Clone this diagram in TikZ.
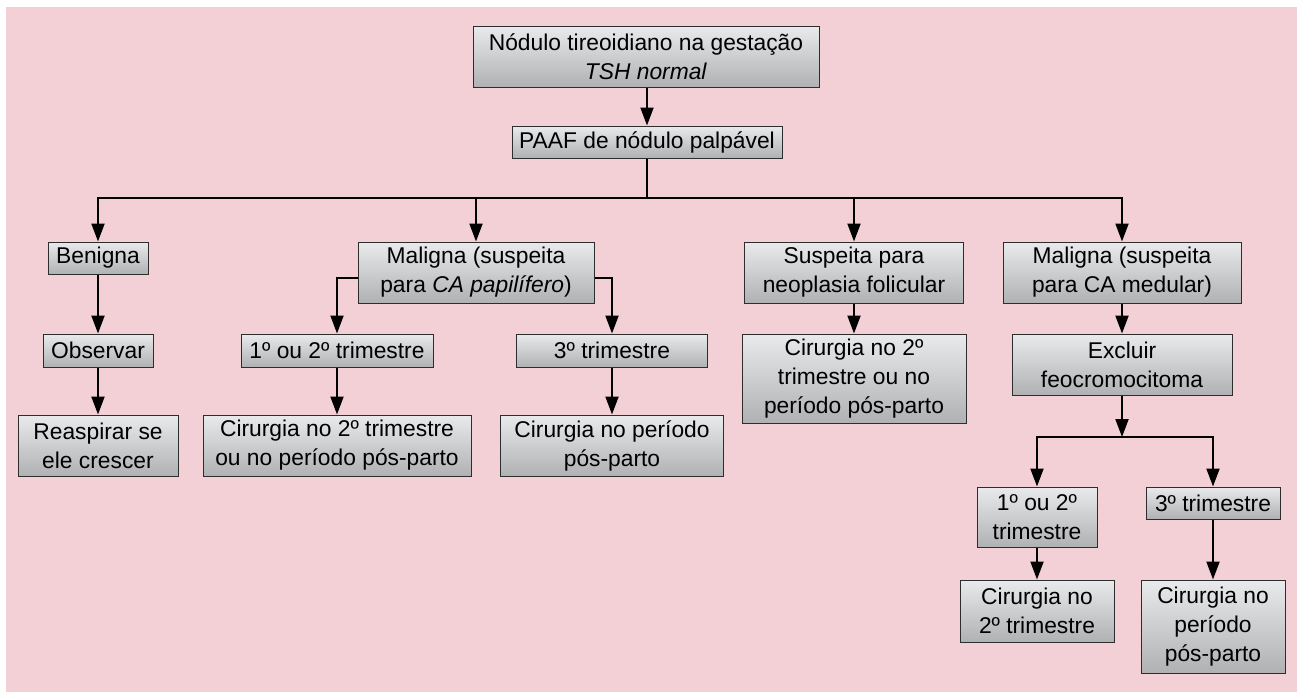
\documentclass[tikz,border=0pt]{standalone}
\usepackage{fontspec}
\setmainfont{Liberation Sans}
\usetikzlibrary{arrows.meta}
\definecolor{rosa}{RGB}{243,207,214}
\definecolor{cinzaclaro}{RGB}{233,234,235}
\definecolor{cinzaescuro}{RGB}{176,177,179}
\definecolor{borda}{RGB}{45,45,45}
\tikzset{
	caixa/.style={draw=borda,line width=0.5pt,top color=cinzaclaro,bottom color=cinzaescuro,align=center,inner sep=0pt,font=\fontsize{11.4}{14.5}\selectfont},
	seta/.style={line width=1pt,-{Triangle[length=9pt,width=6.5pt]}},
	linha/.style={line width=1pt}
}

\begin{document}
\begin{tikzpicture}[x=0.5pt,y=-0.5pt]
	\useasboundingbox (0,0) rectangle (1297,692);
	\fill[white] (0,0) rectangle (1297,692);
	\fill[rosa] (6,7) rectangle (1297,692);

	\node[caixa,minimum width=173pt,minimum height=30.5pt] (topo) at (646,56.5) {Nódulo tireoidiano na gestação\\\textit{TSH normal}};
	\node[caixa,minimum width=135pt,minimum height=16pt] (paaf) at (647,142) {PAAF de nódulo palpável};

	\node[caixa,minimum width=50pt,minimum height=16pt] (benigna) at (98,258) {Benigna};
	\node[caixa,minimum width=55pt,minimum height=16.5pt] (observar) at (98,350.5) {Observar};
	\node[caixa,minimum width=80pt,minimum height=30.5pt] (reaspirar) at (98,445.5) {Reaspirar se\\ele crescer};

	\node[caixa,minimum width=118pt,minimum height=30.5pt] (malpap) at (476,272.5) {Maligna (suspeita\\para \textit{CA papilífero})};
	\node[caixa,minimum width=96pt,minimum height=16.5pt] (tri12) at (337,350.5) {1º ou 2º trimestre};
	\node[caixa,minimum width=134pt,minimum height=30.5pt] (cir12) at (337,445.5) {Cirurgia no 2º trimestre\\ou no período pós-parto};
	\node[caixa,minimum width=95.5pt,minimum height=16.5pt] (tri3) at (612,350.5) {3º trimestre};
	\node[caixa,minimum width=111.5pt,minimum height=30.5pt] (cir3) at (612,445.5) {Cirurgia no período\\pós-parto};

	\node[caixa,minimum width=109.5pt,minimum height=30.5pt] (folic) at (854,272.5) {Suspeita para\\neoplasia folicular};
	\node[caixa,minimum width=112pt,minimum height=44.5pt] (cirfol) at (854,378.5) {Cirurgia no 2º\\trimestre ou no\\período pós-parto};

	\node[caixa,minimum width=119pt,minimum height=30.5pt] (malmed) at (1122,272.5) {Maligna (suspeita\\para CA medular)};
	\node[caixa,minimum width=110pt,minimum height=30.5pt] (excluir) at (1122,364.5) {Excluir\\feocromocitoma};
	\node[caixa,minimum width=60pt,minimum height=30pt] (med12) at (1037,517) {1º ou 2º\\trimestre};
	\node[caixa,minimum width=67pt,minimum height=16pt] (med3) at (1213,503) {3º trimestre};
	\node[caixa,minimum width=77pt,minimum height=31pt] (cirmed12) at (1037,611) {Cirurgia no\\2º trimestre};
	\node[caixa,minimum width=72pt,minimum height=46.5pt] (cirmed3) at (1213,626.5) {Cirurgia no\\período\\pós-parto};

	\coordinate (barra) at (647,198);
	\coordinate (barra2) at (1122,437);

	\draw[seta] (topo.south -| paaf.north) -- (paaf);
	\draw[linha] (paaf) -- (barra);
	\draw[seta] (barra) -| (benigna.north);
	\draw[seta] (barra) -| (malpap.north);
	\draw[seta] (barra) -| (folic.north);
	\draw[seta] (barra) -| (malmed.north);

	\draw[seta] (benigna) -- (observar);
	\draw[seta] (observar) -- (reaspirar);

	\draw[seta] ([yshift=-2.75pt]malpap.west) -| (tri12.north);
	\draw[seta] ([yshift=-2.75pt]malpap.east) -| (tri3.north);
	\draw[seta] (tri12) -- (cir12);
	\draw[seta] (tri3) -- (cir3);

	\draw[seta] (folic) -- (cirfol);

	\draw[seta] (malmed) -- (excluir);
	\draw[seta] (excluir) -- (barra2);
	\draw[seta] (barra2) -| (med12.north);
	\draw[seta] (barra2) -| (med3.north);
	\draw[seta] (med12) -- (cirmed12);
	\draw[seta] (med3) -- (cirmed3);
\end{tikzpicture}
\end{document}
